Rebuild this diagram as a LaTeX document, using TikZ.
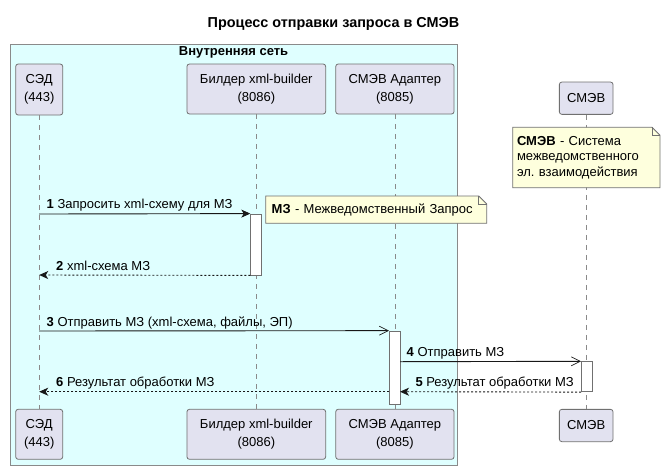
\documentclass[tikz,border=0pt]{standalone}
\usepackage{fontspec}
\setmainfont{Liberation Sans}
\usetikzlibrary{arrows.meta,calc}
\frenchspacing
\definecolor{netfill}{HTML}{DFFFFF}
\definecolor{netline}{HTML}{8A8A8A}
\definecolor{partfill}{HTML}{E2E2F0}
\definecolor{notefill}{HTML}{FEFFDD}
\definecolor{edge}{HTML}{181818}
\definecolor{boxline}{HTML}{707070}
\definecolor{lifeline}{HTML}{8A8A8A}
\begin{document}
\begin{tikzpicture}[x=1pt,y=-1pt,
  txt/.style={font=\fontsize{13}{15.5}\selectfont, inner sep=0pt},
  part/.style={draw=boxline, fill=partfill, rounded corners=2.5pt, line width=0.8pt,
    align=center, inner sep=0pt, font=\fontsize{13}{18}\selectfont},
  netbox/.style={draw=netline, fill=netfill, line width=1pt, inner sep=0pt},
  life/.style={draw=lifeline, line width=0.8pt, dash pattern=on 5pt off 5pt},
  actbox/.style={draw=boxline, fill=white, line width=0.8pt, inner sep=0pt, minimum width=10.6pt},
  notebox/.style={draw=none, inner sep=0pt, align=left, font=\fontsize{13}{15.5}\selectfont},
  noteline/.style={draw=boxline, fill=notefill, line width=0.8pt, line join=miter},
  msg/.style={draw=edge, line width=0.9pt, -{Stealth[length=9pt,width=8pt,inset=2.5pt]}},
  ret/.style={draw=edge, line width=0.9pt, dash pattern=on 2pt off 2pt, -{Stealth[length=9pt,width=8pt,inset=2.5pt]}},
  async/.style={draw=edge, line width=0.9pt, -{Straight Barb[length=9pt,width=9pt,line width=0.7pt]}},
  lbl/.style={txt, anchor=base west},
]
\useasboundingbox (0,0) rectangle (667,472);

% title
\node[txt, font=\fontsize{14.4}{16}\selectfont\bfseries] (title) at (333.5,24) {Процесс отправки запроса в СМЭВ};

% container
\node[netbox, minimum width=447.3pt, minimum height=421.4pt] (net) at (233.65,255) {};
\node[txt, font=\fontsize{13}{15}\selectfont\bfseries] (netlbl) at (233.6,52.5) {Внутренняя сеть};

% participants (top)
\node[part, minimum width=47pt, minimum height=51pt] (sedT) at (39.2,89.5) {СЭД\\(443)};
\node[part, minimum width=138.7pt, minimum height=50pt] (bldT) at (256.3,89) {Билдер xml-builder\\(8086)};
\node[part, minimum width=118.3pt, minimum height=50pt] (adpT) at (394.9,89) {СМЭВ Адаптер\\(8085)};
\node[part, minimum width=53.7pt, minimum height=32.3pt] (smvT) at (586.2,98.2) {СМЭВ};

% participants (bottom)
\node[part, minimum width=47pt, minimum height=50pt] (sedB) at (39.2,434.3) {СЭД\\(443)};
\node[part, minimum width=138.7pt, minimum height=50pt] (bldB) at (256.3,434.3) {Билдер xml-builder\\(8086)};
\node[part, minimum width=118.3pt, minimum height=50pt] (adpB) at (394.9,434.3) {СМЭВ Адаптер\\(8085)};
\node[part, minimum width=53.7pt, minimum height=32.3pt] (smvB) at (586.2,425.5) {СМЭВ};

% lifelines
\draw[life] (sedT.south) -- (sedB.north);
\draw[life] (bldT.south) -- (bldB.north);
\draw[life] (adpT.south) -- (adpB.north);
\draw[life] (smvT.south) -- (smvB.north);

% activations
\node[actbox, minimum height=61pt] (act1) at (256,244.5) {};
\node[actbox, minimum height=73.3pt] (act2) at (394.7,367.7) {};
\node[actbox, minimum height=30pt] (act3) at (586.7,376.7) {};

% notes: outlines
\coordinate (n1nw) at (512.7,127.3);
\coordinate (n1se) at (660,187.7);
\draw[noteline] (n1nw) -- ($(n1nw -| n1se)+(-8,0)$) -- ++(8,8) -- (n1se) -- (n1se -| n1nw) -- cycle;
\draw[noteline, fill=none] ($(n1nw -| n1se)+(-8,0)$) -- ++(0,8) -- ++(8,0);
\coordinate (n2nw) at (265.7,196);
\coordinate (n2se) at (486.7,223.3);
\draw[noteline] (n2nw) -- ($(n2nw -| n2se)+(-8,0)$) -- ++(8,8) -- (n2se) -- (n2se -| n2nw) -- cycle;
\draw[noteline, fill=none] ($(n2nw -| n2se)+(-8,0)$) -- ++(0,8) -- ++(8,0);
% notes: texts
\node[notebox, minimum width=147.3pt, minimum height=60.4pt, text width=138.7pt, inner xsep=4.3pt] (note1) at (586.35,157.5)
  {\textbf{СМЭВ} - Система\\межведомственного\\эл. взаимодействия};
\node[notebox, minimum width=221pt, minimum height=27.3pt, text width=209pt, inner xsep=6pt] (note2) at (376.2,209.65)
  {\textbf{МЗ} - Межведомственный Запрос};

% message end points on lifelines
\coordinate (s1) at (39.2,214);
\coordinate (s2) at (39.2,275);
\coordinate (s3) at (39.2,331);
\coordinate (a4) at (400,361.7);
\coordinate (a5) at (400,391.7);
\coordinate (a6) at (389.4,391.7);
\coordinate (s6) at (39.2,391.7);

% messages
\draw[msg] (s1) -- (act1.north west);
\node[lbl] (m1) at (46.5,208.5) {\textbf{1} Запросить xml-схему для МЗ};
\draw[ret] (act1.south west) -- (s2);
\node[lbl] (m2) at (56,270) {\textbf{2} xml-схема МЗ};
\draw[async] (s3) -- (act2.north west);
\node[lbl] (m3) at (46.5,326) {\textbf{3} Отправить МЗ (xml-схема, файлы, ЭП)};
\draw[async] (a4) -- (act3.north west);
\node[lbl] (m4) at (406.5,356.5) {\textbf{4} Отправить МЗ};
\draw[ret] (act3.south west) -- (a5);
\node[lbl, anchor=base east] (m5) at (574,386.5) {\textbf{5} Результат обработки МЗ};
\draw[ret] (a6) -- (s6);
\node[lbl] (m6) at (56,386.5) {\textbf{6} Результат обработки МЗ};
\end{tikzpicture}
\end{document}
